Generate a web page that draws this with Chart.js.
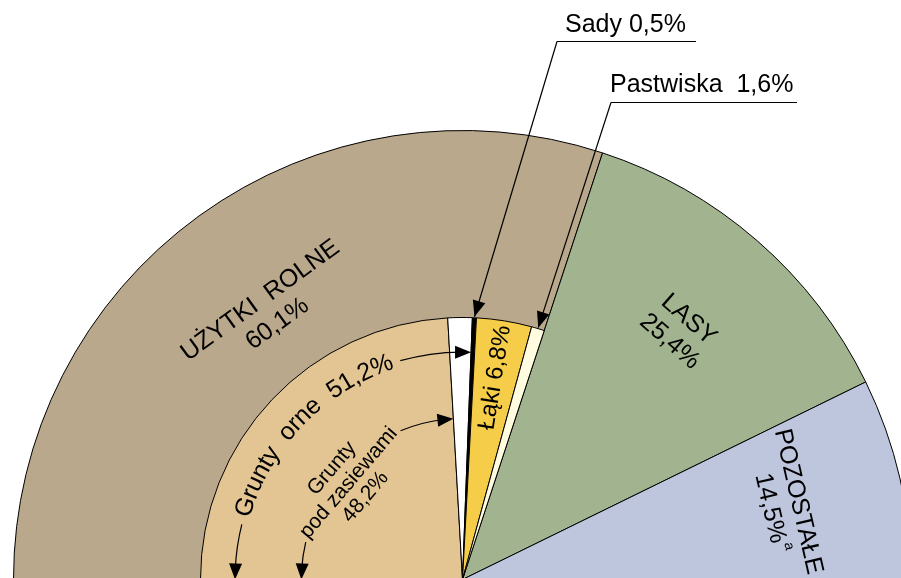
<!DOCTYPE html>
<html lang="pl">
<head>
  <meta charset="UTF-8">
  <title>Użytkowanie gruntów</title>
  <script src="https://cdn.jsdelivr.net/npm/chart.js"></script>
  <style>
    html, body { margin: 0; padding: 0; background: #fff; overflow: hidden; }
    #wrap { position: relative; width: 901px; height: 578px; overflow: hidden; }
    #wrap canvas { position: absolute; left: 0; top: 0; }
  </style>
</head>
<body>
  <div id="wrap">
    <canvas id="outerPie" width="920" height="600"></canvas>
    <canvas id="innerPie" width="920" height="600"></canvas>
  </div>

  <script>
    // outer ring
    const outerLabels = ['UŻYTKI ROLNE', 'LASY', 'POZOSTAŁE'];
    const outerValues = [60.1, 25.4, 14.5];
    const outerNotes = ['', '', 'a'];
    const outerColors = ['#b9a88b', '#a1b48f', '#bec6de'];

    // inner half-pie (only inside użytki rolne), last slice is empty filler
    const innerLabels = ['Grunty pod zasiewami', 'Grunty orne pozostałe', 'Sady', 'Łąki', 'Pastwiska', ''];
    const innerValues = [48.2, 3.0, 0.5, 6.8, 1.6, 39.9];
    const innerColors = ['#e3c594', '#ffffff', '#000000', '#f5cd48', '#fffce0', 'rgba(0,0,0,0)'];
    const innerBorders = [1, 1, 1, 1, 1, 0];
    const arableLabel = 'Grunty orne';
    const arableValue = 51.2;

    const FONT = '"Liberation Sans", Arial, sans-serif';
    const CX = 462.5, CY = 579.5, R_OUT = 449, R_IN = 262;
    const W = 920, H = 600;
    const rad = d => d * Math.PI / 180;
    const pct = v => v.toFixed(1).replace('.', ',') + '%';

    function padFor(r) {
      return {
        left: CX - r - 0.5,
        top: CY - r - 0.5,
        right: W - (CX + r + 0.5),
        bottom: H - (CY + 0.5)
      };
    }

    function pieConfig(labels, values, colors, borders, r, plugins) {
      return {
        type: 'pie',
        data: {
          labels: labels,
          datasets: [{
            data: values,
            backgroundColor: colors,
            borderColor: '#000',
            borderWidth: borders,
            clip: false
          }]
        },
        options: {
          responsive: false,
          animation: false,
          events: [],
          rotation: -90,
          circumference: 180,
          layout: { padding: padFor(r) },
          plugins: { legend: { display: false }, tooltip: { enabled: false } }
        },
        plugins: plugins || []
      };
    }

    function arrowHead(ctx, x, y, dir) {
      const len = 16, half = 6.5;
      const c = Math.cos(dir), s = Math.sin(dir);
      ctx.beginPath();
      ctx.moveTo(x, y);
      ctx.lineTo(x - len * c + half * s, y - len * s - half * c);
      ctx.lineTo(x - len * c - half * s, y - len * s + half * c);
      ctx.closePath();
      ctx.fill();
    }

    function arcArrow(ctx, x, y, r, from, to) {
      const sign = to > from ? 1 : -1;
      ctx.beginPath();
      ctx.arc(x, y, r, from, to - sign * 10 / r, sign < 0);
      ctx.stroke();
      const tx = x + r * Math.cos(to), ty = y + r * Math.sin(to);
      const back = to - sign * 16 / r;
      const bx = x + r * Math.cos(back), by = y + r * Math.sin(back);
      arrowHead(ctx, tx, ty, Math.atan2(ty - by, tx - bx));
    }

    function lineArrow(ctx, x0, y0, x1, y1) {
      ctx.beginPath();
      ctx.moveTo(x0, y0);
      ctx.lineTo(x1, y1);
      ctx.stroke();
      arrowHead(ctx, x1, y1, Math.atan2(y1 - y0, x1 - x0));
    }

    // lines: [{t, sup}]
    function textBlock(ctx, lines, x, y, rot, size, lh) {
      ctx.save();
      ctx.translate(x, y);
      ctx.rotate(rot);
      ctx.textBaseline = 'middle';
      lines.forEach((ln, k) => {
        const ly = (k - (lines.length - 1) / 2) * lh;
        ctx.font = size + 'px ' + FONT;
        const w = ctx.measureText(ln.t).width;
        ctx.textAlign = 'left';
        ctx.fillText(ln.t, -w / 2, ly);
        if (ln.sup) {
          ctx.font = Math.round(size * 0.55) + 'px ' + FONT;
          ctx.fillText(ln.sup, w / 2 + 2, ly - size * 0.4);
        }
      });
      ctx.restore();
    }

    function arcText(ctx, text, x, y, r, mid, size) {
      ctx.save();
      ctx.font = size + 'px ' + FONT;
      ctx.textAlign = 'center';
      ctx.textBaseline = 'middle';
      const w = ctx.measureText(text).width;
      let a = mid - w / 2 / r;
      for (const ch of text) {
        const cw = ctx.measureText(ch).width;
        const ca = a + cw / 2 / r;
        ctx.save();
        ctx.translate(x + r * Math.cos(ca), y + r * Math.sin(ca));
        ctx.rotate(ca + Math.PI / 2);
        ctx.fillText(ch, 0, 0);
        ctx.restore();
        a += cw / r;
      }
      ctx.restore();
      return w / r;
    }

    let outerChart;

    const labelPlugin = {
      id: 'landLabels',
      afterDraw(chart) {
        const ctx = chart.ctx;
        const outer = outerChart.getDatasetMeta(0).data;
        const inner = chart.getDatasetMeta(0).data;
        const ox = outer[0].x, oy = outer[0].y;
        const rOut = outer[0].outerRadius, rIn = inner[0].outerRadius;
        ctx.save();
        ctx.fillStyle = '#000';
        ctx.strokeStyle = '#000';
        ctx.lineWidth = 1.2;

        // outer ring names
        outer.forEach((arc, i) => {
          const a = (arc.startAngle + arc.endAngle) / 2;
          const r = rOut * 0.735;
          textBlock(ctx, [{ t: outerLabels[i].replace(' ', '  ') }, { t: pct(outerValues[i]), sup: outerNotes[i] }],
            ox + r * Math.cos(a), oy + r * Math.sin(a), a + Math.PI / 2, 25, 29);
        });

        // Łąki, radial text in its slice
        const lq = inner[3];
        const la = (lq.startAngle + lq.endAngle) / 2;
        const lr = rIn * 0.78;
        textBlock(ctx, [{ t: innerLabels[3] + ' ' + pct(innerValues[3]) }],
          ox + lr * Math.cos(la), oy + lr * Math.sin(la), la, 24, 24);

        // Grunty orne: curved text with arrows to both ends
        const arStart = inner[0].startAngle, arEnd = inner[1].endAngle;
        const arMid = (arStart + arEnd) / 2 - rad(2);
        const rA = rIn * 0.872;
        const span = arcText(ctx, arableLabel.replace(' ', '  ') + '  ' + pct(arableValue), ox, oy, rA, arMid, 25);
        const gap = rad(2);
        arcArrow(ctx, ox, oy, rA - 1, arMid - span / 2 - gap, arStart);
        arcArrow(ctx, ox, oy, rA - 1, arMid + span / 2 + gap, arEnd);

        // Grunty pod zasiewami: three lines with arrows to its slice ends
        const pz = inner[0];
        const pMid = (pz.startAngle + pz.endAngle) / 2 - rad(3);
        const pr = rIn * 0.57;
        textBlock(ctx, [{ t: 'Grunty' }, { t: 'pod zasiewami' }, { t: pct(innerValues[0]) }],
          ox + pr * Math.cos(pMid), oy + pr * Math.sin(pMid), pMid + Math.PI / 2, 21, 22);
        const rB = rIn * 0.615;
        arcArrow(ctx, ox, oy, rB, pMid - rad(27), pz.startAngle);
        arcArrow(ctx, ox, oy, rB, pMid + rad(27), pz.endAngle);

        // leader labels for small slices
        const leaders = [
          { idx: 2, text: innerLabels[2] + ' ' + pct(innerValues[2]), tx: 565, ty: 25, ux0: 557, ux1: 696, uy: 41.5 },
          { idx: 4, text: innerLabels[4] + '  ' + pct(innerValues[4]), tx: 610, ty: 85, ux0: 611, ux1: 797, uy: 102.5 }
        ];
        ctx.font = '25px ' + FONT;
        ctx.textAlign = 'left';
        ctx.textBaseline = 'middle';
        leaders.forEach(l => {
          const arc = inner[l.idx];
          const a = (arc.startAngle + arc.endAngle) / 2;
          ctx.fillText(l.text, l.tx, l.ty);
          ctx.beginPath();
          ctx.moveTo(l.ux1, l.uy);
          ctx.lineTo(l.ux0, l.uy);
          ctx.stroke();
          lineArrow(ctx, l.ux0, l.uy, ox + (rIn + 1) * Math.cos(a), oy + (rIn + 1) * Math.sin(a));
        });
        ctx.restore();
      }
    };

    outerChart = new Chart(document.getElementById('outerPie'),
      pieConfig(outerLabels, outerValues, outerColors, 1, R_OUT));
    new Chart(document.getElementById('innerPie'),
      pieConfig(innerLabels, innerValues, innerColors, innerBorders, R_IN, [labelPlugin]));
  </script>
</body>
</html>
